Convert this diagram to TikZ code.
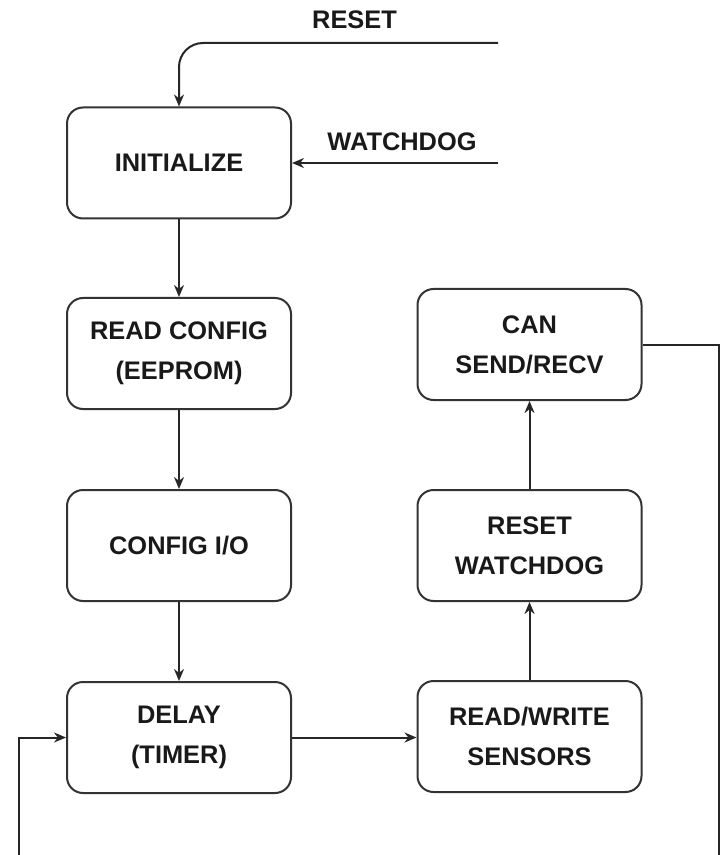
\documentclass[tikz,border=0pt]{standalone}
\usepackage{fontspec}
\setmainfont{Liberation Sans}
\usetikzlibrary{arrows.meta}
\begin{document}
\begin{tikzpicture}[x=0.5pt,y=-0.5pt,
  every node/.style={font=\fontsize{12.7}{20}\selectfont\bfseries, text=black!90},
  stepbox/.style={draw=black!80, line width=1pt, rounded corners=8pt,
    minimum width=112pt, minimum height=55.5pt, inner sep=0pt, align=center},
  flow/.style={draw=black!85, line width=1pt, -{Stealth[length=6pt,width=5pt]}},
  plain/.style={draw=black!85, line width=1pt}]
\useasboundingbox (0,0) rectangle (720,855);
\clip (0,0) rectangle (720,855);

% left column
\node[stepbox] (init) at (179,163) {INITIALIZE};
\node[stepbox] (rcfg) at (179,353.5) {READ CONFIG\\(EEPROM)};
\node[stepbox] (cio)  at (179,545.5) {CONFIG I/O};
\node[stepbox] (dly)  at (179,737.5) {DELAY\\(TIMER)};

% right column
\node[stepbox] (rws) at (529.5,736.5) {READ/WRITE\\SENSORS};
\node[stepbox] (rwd) at (529.5,545.5) {RESET\\WATCHDOG};
\node[stepbox] (can) at (529.5,344.5) {CAN\\SEND/RECV};

% external inputs
\node (lreset) at (354.5,20) {RESET};
\node (lwdog)  at (402,142) {WATCHDOG};
\coordinate (rsrc) at (498,43);
\coordinate (wsrc) at (498,163);

\draw[flow, rounded corners=12pt] (rsrc) -| (init.north);
\draw[flow] (wsrc) -- (init.east);

% main sequence
\draw[flow] (init) -- (rcfg);
\draw[flow] (rcfg) -- (cio);
\draw[flow] (cio) -- (dly);
\draw[flow] (dly.east |- rws.west) ++(0,1) -- ([yshift=-0.5pt]rws.west);
\draw[flow] (rws) -- (rwd);
\draw[flow] (rwd) -- (can);

% loop back to the delay step
\coordinate (lpA) at (719,344.5);
\coordinate (lpB) at (719,900);
\coordinate (lpC) at (19,900);
\coordinate (lpD) at (19,737.5);
\draw[flow] (can.east) -- (lpA) -- (lpB) -- (lpC) -- (lpD) -- (dly.west);
\end{tikzpicture}
\end{document}
